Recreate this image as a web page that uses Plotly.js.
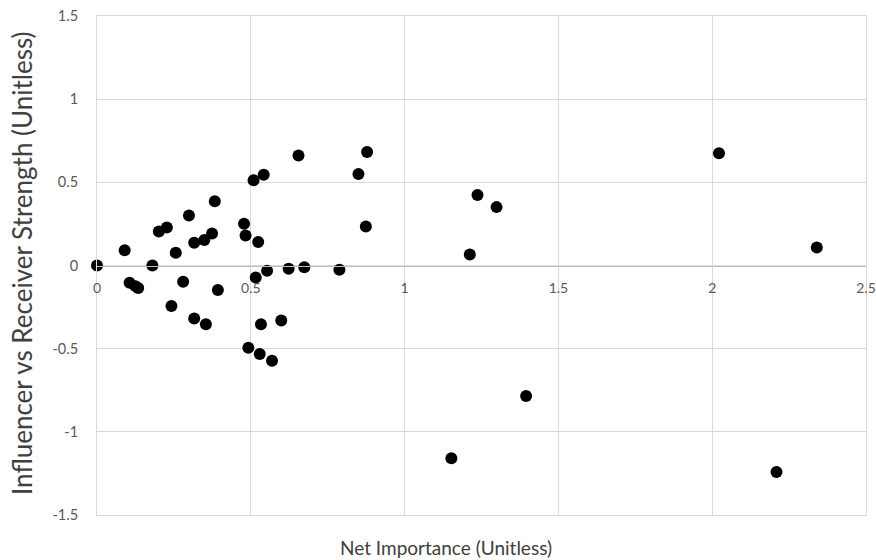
<!DOCTYPE html>
<html>
<head>
<meta charset="utf-8">
<script src="https://cdn.plot.ly/plotly-3.0.1.min.js"></script>
<style>html,body{margin:0;padding:0;background:#fff;}#chart{width:876px;height:560px;}</style>
</head>
<body>
<div id="chart"></div>
<script>
const netImportance = [0, 0.090, 0.106, 0.125, 0.134, 0.180, 0.201, 0.227, 0.256, 0.242, 0.280, 0.299, 0.316, 0.316, 0.349, 0.354, 0.374, 0.383, 0.393, 0.478, 0.483, 0.492, 0.509, 0.524, 0.516, 0.529, 0.533, 0.542, 0.553, 0.569, 0.599, 0.623, 0.655, 0.674, 0.788, 0.850, 0.878, 0.874, 1.237, 1.299, 1.212, 2.022, 2.340, 1.395, 1.152, 2.209];
const strength = [0, 0.092, -0.104, -0.124, -0.135, 0, 0.205, 0.229, 0.076, -0.243, -0.098, 0.301, 0.137, -0.319, 0.153, -0.353, 0.193, 0.386, -0.147, 0.251, 0.181, -0.494, 0.512, 0.141, -0.072, -0.532, -0.353, 0.546, -0.032, -0.572, -0.331, -0.020, 0.661, -0.010, -0.026, 0.550, 0.683, 0.235, 0.424, 0.351, 0.066, 0.675, 0.108, -0.785, -1.159, -1.241];
const xTicks = [0, 0.5, 1, 1.5, 2, 2.5];
const xTickText = ['0', '0.5', '1', '1.5', '2', '2.5'];
const yTicks = [-1.5, -1, -0.5, 0, 0.5, 1, 1.5];
const yTickText = ['-1.5', '-1', '-0.5', '0', '0.5', '1', '1.5'];
const xTitle = 'Net Importance (Unitless)';
const yTitle = 'Influencer vs Receiver Strength (Unitless)';

const fontFam = 'Lato, "Open Sans", sans-serif';
const titleColor = '#404040';
const ML = 97, MR = 10, MT = 16, MB = 45, W = 876, H = 560;
const PW = W - ML - MR, PH = H - MT - MB;
const data = [
  {x: netImportance, y: strength, type: 'scatter', mode: 'markers',
   marker: {color: '#000000', size: 12}, hoverinfo: 'x+y', cliponaxis: false},
  {x: [], y: [], xaxis: 'x2', yaxis: 'y', type: 'scatter', mode: 'markers', showlegend: false}
];
const layout = {
  width: W, height: H,
  margin: {l: ML, r: MR, t: MT, b: MB},
  paper_bgcolor: '#ffffff', plot_bgcolor: '#ffffff',
  showlegend: false,
  font: {family: fontFam, color: '#595959', size: 14},
  xaxis: {
    range: [0, 2.5], tickvals: xTicks, ticktext: xTickText,
    showticklabels: false, showgrid: true, gridcolor: '#d9d9d9', gridwidth: 1,
    zeroline: false, showline: true, mirror: true, linecolor: '#d9d9d9', linewidth: 1,
    ticks: ''
  },
  xaxis2: {
    overlaying: 'x', matches: 'x', anchor: 'free', position: 0.5, side: 'bottom',
    range: [0, 2.5], tickvals: xTicks, ticktext: xTickText,
    showgrid: false, zeroline: false, showline: true, linecolor: '#bfbfbf', linewidth: 1.3,
    ticks: '', ticklabelstandoff: 9, ticklabeloverflow: 'allow',
    tickfont: {family: fontFam, size: 14, color: '#595959'}
  },
  yaxis: {
    range: [-1.5, 1.5], tickvals: yTicks, ticktext: yTickText,
    showgrid: true, gridcolor: '#d9d9d9', gridwidth: 1,
    zeroline: false, showline: true, mirror: true, linecolor: '#d9d9d9', linewidth: 1,
    ticks: '', ticklabelstandoff: 15,
    tickfont: {family: fontFam, size: 14.5, color: '#595959'}
  },
  annotations: [
    {text: xTitle, xref: 'paper', yref: 'paper', x: (446 - ML) / PW, y: (H - MB - 547) / PH,
     xanchor: 'center', yanchor: 'middle', showarrow: false,
     font: {family: fontFam, size: 19, color: titleColor}},
    {text: yTitle, xref: 'paper', yref: 'paper', x: (22 - ML) / PW, y: (H - MB - 263) / PH,
     xanchor: 'center', yanchor: 'middle', showarrow: false, textangle: -90,
     font: {family: fontFam, size: 26, color: titleColor}}
  ]
};
Plotly.newPlot('chart', data, layout, {displayModeBar: false, staticPlot: true});
</script>
</body>
</html>
